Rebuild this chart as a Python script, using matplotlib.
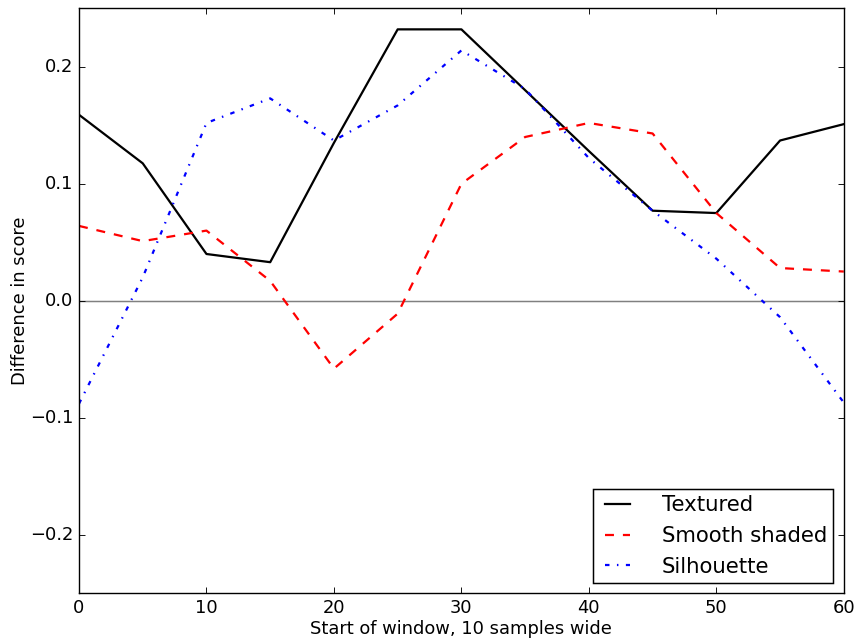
import matplotlib
matplotlib.use("Agg")
import matplotlib.pyplot as plt

plt.style.use("classic")

x = [0, 5, 10, 15, 20, 25, 30, 35, 40, 45, 50, 55, 60]
textured = [0.159, 0.1175, 0.040, 0.033, 0.135, 0.232, 0.232, 0.180, 0.128, 0.077, 0.075, 0.137, 0.151]
smooth = [0.064, 0.051, 0.060, 0.017, -0.058, -0.011, 0.100, 0.140, 0.152, 0.143, 0.075, 0.028, 0.025]
silhouette = [-0.088, 0.020, 0.152, 0.173, 0.137, 0.167, 0.214, 0.181, 0.122, 0.077, 0.036, -0.014, -0.087]

S = 1.074
fig = plt.figure(figsize=(8.59, 6.41), dpi=100, facecolor="white")
ax = fig.add_axes([79 / 859, 1 - 593.3 / 641, (843.8 - 79) / 859, (593.3 - 8.3) / 641])
ax.set_facecolor("white")

ax.axhline(0, color="0.5", lw=1.0 * S)
ax.plot(x, textured, color="k", ls="-", lw=1.5 * S, label="Textured")
ax.plot(x, smooth, color="r", ls=(0, (6 * S, 6 * S)), lw=1.5 * S, label="Smooth shaded")
ax.plot(x, silhouette, color="b", ls=(0, (3 * S, 5 * S, 1 * S, 5 * S)), lw=1.5 * S, label="Silhouette")

ax.set_xlim(0, 60)
ax.set_ylim(-0.25, 0.25)
ax.set_xticks([0, 10, 20, 30, 40, 50, 60])
ax.set_yticks([-0.2, -0.1, 0.0, 0.1, 0.2])
ax.tick_params(labelsize=12 * S, length=4 * S, width=0.6 * S)
ax.set_xlabel("Start of window, 10 samples wide", fontsize=12 * S, labelpad=2)
ax.set_ylabel("Difference in score", fontsize=12 * S, labelpad=0.5)

leg = ax.legend(loc="lower right", fontsize=14.3 * S, handlelength=1.75, handletextpad=1.2,
                frameon=True, fancybox=False, borderaxespad=0.5, borderpad=0.28,
                labelspacing=0.5)
leg.get_frame().set_edgecolor("black")
leg.get_frame().set_linewidth(1.0 * S)

fig.savefig("out.png", dpi=100, facecolor="white")
